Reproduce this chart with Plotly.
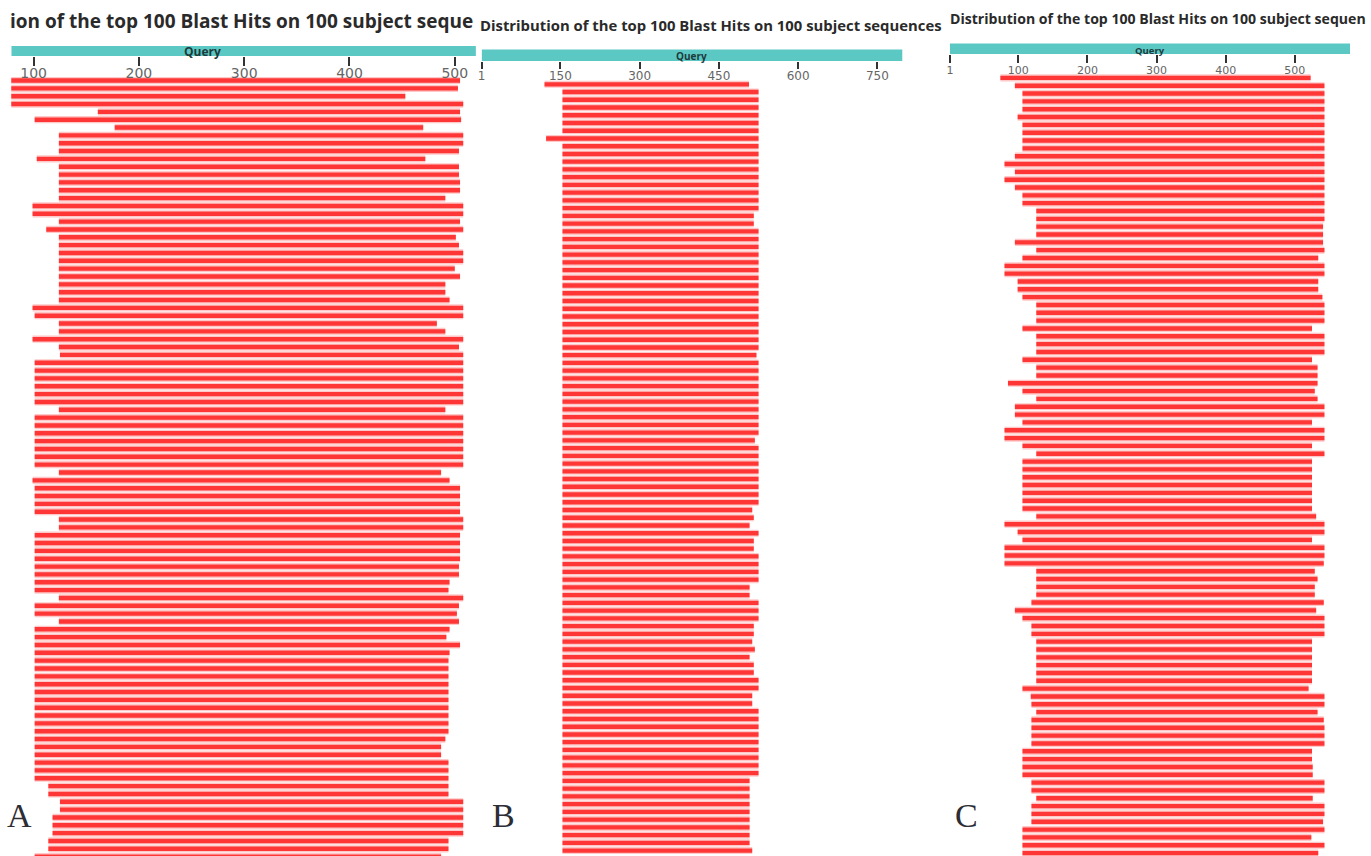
import plotly.graph_objects as go

# ---------------- data ----------------
# Panel A (query length ~520; left part of the panel is cropped in the original)
A_START = [60, 60, 60, 60, 161, 101, 177, 124, 124, 124,
           103, 124, 124, 124, 124, 124, 99, 99, 124, 112,
           124, 124, 124, 124, 124, 124, 124, 124, 124, 99,
           101, 124, 124, 99, 124, 125, 101, 101, 101, 101,
           101, 101, 124, 101, 101, 101, 101, 101, 101, 101,
           124, 99, 101, 101, 101, 101, 124, 124, 101, 101,
           101, 101, 101, 101, 101, 101, 124, 101, 101, 124,
           101, 101, 101, 101, 101, 101, 101, 101, 101, 101,
           101, 101, 101, 101, 101, 101, 101, 101, 101, 101,
           114, 114, 125, 125, 118, 118, 118, 114, 114, 101]
A_END = [505, 503, 453, 508, 505, 506, 470, 508, 508, 504,
         472, 504, 504, 505, 505, 491, 508, 508, 505, 508,
         501, 504, 508, 508, 500, 505, 491, 491, 495, 508,
         508, 483, 491, 508, 504, 508, 508, 508, 508, 508,
         508, 508, 491, 508, 508, 508, 508, 508, 508, 508,
         487, 495, 505, 505, 505, 505, 508, 508, 505, 505,
         505, 505, 504, 504, 495, 494, 508, 504, 502, 504,
         495, 492, 505, 495, 494, 494, 494, 494, 494, 494,
         494, 494, 494, 494, 491, 487, 487, 494, 494, 494,
         494, 494, 508, 508, 508, 508, 508, 494, 494, 487]

# Panel B (query length ~797)
B_START = [120, 154, 154, 154, 154, 154, 154, 123] + [154] * 92
B_END = [507] + [525] * 16 + [516, 516] + [525] * 16 + [521] + [525] * 10 + [518] + \
        [525] * 8 + [513, 516, 508, 525, 516, 516] + [525] * 4 + [508, 508] + [525] * 3 + \
        [516, 516, 513, 518, 508, 516, 516, 525, 525, 513, 513] + [525] * 9 + [508] * 9 + [513]

# Panel C (query length ~580)
C_START = [74, 95, 106, 106, 106, 99, 106, 106, 106, 106,
           95, 80, 95, 80, 95, 106, 106, 126, 126, 126,
           126, 95, 126, 106, 80, 80, 99, 99, 106, 126,
           126, 126, 106, 126, 126, 126, 106, 126, 126, 85,
           106, 126, 95, 95, 106, 80, 80, 106, 126, 106,
           106, 106, 106, 106, 106, 106, 126, 80, 99, 106,
           80, 80, 80, 126, 126, 126, 126, 119, 95, 106,
           119, 119, 126, 126, 126, 126, 126, 126, 106, 118,
           119, 126, 119, 119, 119, 119, 106, 106, 106, 106,
           119, 119, 126, 119, 119, 119, 106, 106, 106, 106]
C_END = [523, 543, 543, 543, 543, 543, 543, 543, 543, 543,
         543, 543, 543, 543, 543, 543, 543, 543, 543, 541,
         541, 541, 543, 534, 543, 543, 534, 534, 540, 543,
         543, 543, 525, 543, 543, 543, 525, 533, 533, 533,
         529, 533, 543, 543, 525, 543, 543, 525, 543, 525,
         525, 525, 525, 525, 525, 525, 531, 543, 543, 525,
         543, 543, 542, 529, 533, 529, 529, 542, 531, 543,
         543, 543, 525, 525, 525, 525, 525, 525, 520, 543,
         543, 533, 542, 543, 543, 543, 525, 525, 526, 526,
         543, 543, 526, 543, 543, 541, 543, 524, 543, 534]

QUERY_LEN = [520, 797, 580]
TICKS_A = [100, 200, 300, 400, 500]
TICKS_B = [1, 150, 300, 450, 600, 750]
TICKS_C = [1, 100, 200, 300, 400, 500]
TITLES = ["ion of the top 100 Blast Hits on 100 subject seque",
          "Distribution of the top 100 Blast Hits on 100 subject sequences",
          "Distribution of the top 100 Blast Hits on 100 subject sequen"]
PANEL_LABELS = ["A", "B", "C"]
QUERY_LABEL = "Query"

# ---------------- layout geometry (pixels) ----------------
W, H = 1371, 856
DX = -2  # small global horizontal nudge
# axis scale: pixel of a reference value + pixels per unit
panels = [
    dict(starts=A_START, ends=A_END, ticks=TICKS_A, dom=(9.3, 478), ref=(100, 31.7), ppu=1.056,
         y0=80.5, pitch=7.84, q_top=46, q_bot=56, ticklen=9, tickfs=14, stand=-5, qfs=12, q_txt=51.5,
         title_x=6, title_y=21.5, title_fs=19, lab_x=3, lab_y=815),
    dict(starts=B_START, ends=B_END, ticks=TICKS_B, dom=(481, 940), ref=(150, 560), ppu=0.53,
         y0=84.3, pitch=7.74, q_top=49.5, q_bot=61, ticklen=7, tickfs=12, stand=-3, qfs=10, q_txt=56.5,
         title_x=477, title_y=25, title_fs=14.85, lab_x=489, lab_y=815),
    dict(starts=C_START, ends=C_END, ticks=TICKS_C, dom=(950, 1373), ref=(1, 950.7), ppu=0.693,
         y0=77.9, pitch=7.83, q_top=43.5, q_bot=54, ticklen=8, tickfs=11, stand=-2, qfs=9.5, q_txt=50,
         title_x=949, title_y=18, title_fs=14.1, lab_x=954, lab_y=815),
]

RED = "#ff3636"
PINK = "#ffc8c8"
TEAL = "#5cc8c4"

fig = go.Figure()
shapes, annotations = [], []
layout = {}

for k, p in enumerate(panels):
    sfx = "" if k == 0 else str(k + 1)
    xa, ya = "x" + sfx, "y" + sfx
    rows = list(range(len(p["starts"])))
    lengths = [e - s for s, e in zip(p["starts"], p["ends"])]
    for width, color in ((0.92, PINK), (0.56, RED)):
        fig.add_trace(go.Bar(orientation="h", y=rows, x=lengths, base=p["starts"],
                             width=width, marker=dict(color=color, line=dict(width=0)),
                             xaxis=xa, yaxis=ya, showlegend=False, hoverinfo="skip"))
    d0, d1 = p["dom"][0] + DX, min(p["dom"][1] + DX, W)
    rv, rp = p["ref"]
    rp += DX
    rng = [rv + (d0 - rp) / p["ppu"], rv + (d1 - rp) / p["ppu"]]
    ytop = -p["y0"] / p["pitch"]
    ybot = (H - p["y0"]) / p["pitch"]
    layout["xaxis" + sfx] = dict(domain=[d0 / W, d1 / W],
                                 range=rng, anchor="free",
                                 position=1 - p["q_bot"] / H, side="bottom",
                                 tickmode="array", tickvals=p["ticks"],
                                 ticks="outside", ticklen=p["ticklen"], tickwidth=2,
                                 tickcolor="#333333", showline=False, showgrid=False,
                                 zeroline=False, ticklabelstandoff=p["stand"],
                                 tickfont=dict(family="DejaVu Sans", size=p["tickfs"], color="#666666"))
    layout["yaxis" + sfx] = dict(domain=[0, 1], range=[ybot, ytop], visible=False,
                                 anchor=xa, showgrid=False, zeroline=False)
    qlen = QUERY_LEN[k]
    shapes.append(dict(type="rect", xref=xa, yref="paper",
                       x0=max(1, rng[0]), x1=qlen,
                       y0=1 - p["q_bot"] / H, y1=1 - p["q_top"] / H,
                       fillcolor=TEAL, line=dict(width=0), layer="above"))
    annotations.append(dict(text="<b>%s</b>" % QUERY_LABEL, xref=xa, yref="paper",
                            x=(1 + qlen) / 2, y=1 - p["q_txt"] / H, showarrow=False,
                            xanchor="center", yanchor="middle",
                            font=dict(family="Open Sans", size=p["qfs"], color="#1d3b3b")))
    annotations.append(dict(text="<b>%s</b>" % TITLES[k], xref="paper", yref="paper",
                            x=(p["title_x"] + DX) / W, y=1 - p["title_y"] / H, showarrow=False,
                            xanchor="left", yanchor="middle",
                            font=dict(family="Open Sans", size=p["title_fs"], color="#2a2a2a")))
    annotations.append(dict(text=PANEL_LABELS[k], xref="paper", yref="paper",
                            x=(p["lab_x"] + DX) / W, y=1 - p["lab_y"] / H, showarrow=False,
                            xanchor="left", yanchor="middle",
                            font=dict(family="Liberation Serif", size=34, color="#2d2d35")))

fig.update_layout(width=W, height=H, margin=dict(l=0, r=0, t=0, b=0),
                  paper_bgcolor="white", plot_bgcolor="rgba(0,0,0,0)",
                  barmode="overlay", shapes=shapes, annotations=annotations,
                  showlegend=False, **layout)

fig.write_html("out.html", config={"displayModeBar": False},
               post_script="document.body.style.margin='0';document.body.style.overflow='hidden';")
